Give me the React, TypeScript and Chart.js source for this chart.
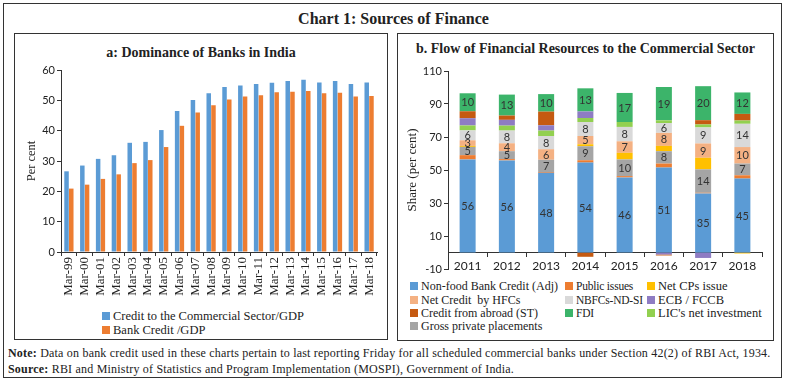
import React, { useEffect, useRef } from "react";
import { Chart, registerables } from "chart.js";

Chart.register(...registerables);

// ---------- Panel a data ----------
const leftCategories = [
  "Mar-99", "Mar-00", "Mar-01", "Mar-02", "Mar-03", "Mar-04", "Mar-05", "Mar-06", "Mar-07", "Mar-08",
  "Mar-09", "Mar-10", "Mar-11", "Mar-12", "Mar-13", "Mar-14", "Mar-15", "Mar-16", "Mar-17", "Mar-18",
];
const leftSeriesNames = ["Credit to the Commercial Sector/GDP", "Bank Credit /GDP"];
const creditCommercialGdp = [26.6, 28.5, 30.7, 31.9, 36.0, 36.3, 40.2, 46.5, 50.1, 52.3, 54.4, 54.9, 55.4, 55.8, 56.4, 56.8, 55.9, 56.4, 55.4, 55.9];
const bankCreditGdp = [20.9, 22.2, 24.1, 25.6, 29.3, 30.3, 34.6, 41.6, 46.0, 48.4, 50.3, 51.3, 51.7, 52.7, 52.8, 53.1, 52.3, 52.5, 51.3, 51.4];
const leftTicks = [0, 10, 20, 30, 40, 50, 60];

// ---------- Panel b data ----------
const years = ["2011", "2012", "2013", "2014", "2015", "2016", "2017", "2018"];
const nonFoodBankCredit = [56.4, 55.8, 48.3, 54.5, 45.5, 51.5, 35.8, 44.8];
const publicIssues = [2.6, 0.8, 0.5, 1.4, 0.8, 2.4, 0.4, 2.0];
const grossPrivatePlacements = [5.0, 4.8, 7.4, 8.5, 10.1, 7.5, 14.2, 7.1];
const netCPsIssue = [0.6, 0, 0, 1.2, 4.0, 3.2, 7.0, -0.6];
const netCreditHFCs = [3.4, 4.8, 6.4, 5.0, 7.0, 7.9, 8.7, 10.0];
const nbfcsNDSI = [6.0, 7.7, 8.0, 8.5, 8.7, 6.0, 9.7, 14.1];
const licNetInvestment = [3.0, 3.0, 3.3, 2.4, 3.0, 1.6, 1.8, 2.0];
const ecbFccb = [4.4, 3.5, 3.2, 4.0, 0, -1.2, -3.3, 0];
const creditFromAbroad = [4.2, 2.6, 8.3, -2.6, 0, -0.6, 2.6, 4.0];
const fdi = [10.9, 12.7, 10.6, 14.0, 17.6, 20.2, 20.6, 13.0];

// printed segment labels
const nonFoodLabels = [56, 56, 48, 54, 46, 51, 35, 45];
const grossPrivateLabels = [5, 5, 7, 9, 10, 8, 14, 7];
const hfcLabels = [3, 4, 6, 5, 7, 8, 9, 10];
const nbfcLabels = [6, 8, 8, 8, 8, 6, 9, 14];
const fdiLabels = [10, 13, 10, 13, 17, 19, 20, 12];

const rightTicks = [-10, 10, 30, 50, 70, 90, 110];

const C = {
  blue: "#5b9bd5",
  orange: "#ed7d31",
  yellow: "#ffc000",
  peach: "#f4b183",
  lightGrey: "#d9d9d9",
  purple: "#8e7cc3",
  darkOrange: "#c55a11",
  green: "#3cb46a",
  lightGreen: "#92d050",
  grey: "#a5a5a5",
};

// stacking order (bottom to top)
const stackSeries = [
  { name: "Non-food Bank Credit (Adj)", data: nonFoodBankCredit, color: C.blue, labels: nonFoodLabels },
  { name: "Public issues", data: publicIssues, color: C.orange },
  { name: "Gross private placements", data: grossPrivatePlacements, color: C.grey, labels: grossPrivateLabels },
  { name: "Net CPs issue", data: netCPsIssue, color: C.yellow },
  { name: "Net Credit  by HFCs", data: netCreditHFCs, color: C.peach, labels: hfcLabels },
  { name: "NBFCs-ND-SI", data: nbfcsNDSI, color: C.lightGrey, labels: nbfcLabels },
  { name: "LIC's net investment", data: licNetInvestment, color: C.lightGreen },
  { name: "ECB / FCCB", data: ecbFccb, color: C.purple },
  { name: "Credit from abroad (ST)", data: creditFromAbroad, color: C.darkOrange },
  { name: "FDI", data: fdi, color: C.green, labels: fdiLabels },
];

// legend order (rows of 3)
const legendOrder = [
  "Non-food Bank Credit (Adj)", "Public issues", "Net CPs issue",
  "Net Credit  by HFCs", "NBFCs-ND-SI", "ECB / FCCB",
  "Credit from abroad (ST)", "FDI", "LIC's net investment",
  "Gross private placements",
];

const SERIF = "'Liberation Serif', 'DejaVu Serif', serif";
const SANS = "Lato, 'Liberation Sans', sans-serif";
const INK = "#222";
const AXIS = "#333";

const segLabelPlugin = {
  id: "segLabels",
  afterDatasetsDraw(chart: any) {
    const ctx = chart.ctx;
    ctx.save();
    ctx.font = `11px ${SANS}`;
    ctx.fillStyle = "#333";
    ctx.textAlign = "center";
    ctx.textBaseline = "middle";
    chart.data.datasets.forEach((ds: any, i: number) => {
      if (!ds.segLabels) return;
      const meta = chart.getDatasetMeta(i);
      meta.data.forEach((el: any, j: number) => {
        const p = el.getProps(["x", "y", "base"], true);
        ctx.fillText(String(ds.segLabels[j]), p.x, (p.y + p.base) / 2 + 0.5);
      });
    });
    ctx.restore();
  },
};

export default function App() {
  const leftRef = useRef<HTMLCanvasElement>(null);
  const rightRef = useRef<HTMLCanvasElement>(null);

  useEffect(() => {
    const left = new Chart(leftRef.current as HTMLCanvasElement, {
      type: "bar",
      data: {
        labels: leftCategories,
        datasets: [
          { label: leftSeriesNames[0], data: creditCommercialGdp, backgroundColor: C.blue, categoryPercentage: 0.6, barPercentage: 0.95 },
          { label: leftSeriesNames[1], data: bankCreditGdp, backgroundColor: C.orange, categoryPercentage: 0.6, barPercentage: 0.95 },
        ],
      },
      options: {
        responsive: false,
        maintainAspectRatio: false,
        animation: false,
        layout: { padding: { left: 0, right: 9, top: 10, bottom: 0 } },
        plugins: { legend: { display: false }, tooltip: { enabled: false } },
        scales: {
          x: {
            grid: { display: true, drawOnChartArea: false, drawTicks: true, tickLength: 4, color: AXIS },
            border: { display: true, color: AXIS },
            ticks: { minRotation: 90, maxRotation: 90, autoSkip: false, font: { family: SERIF, size: 13 }, color: INK, padding: 1 },
            afterFit: (s: any) => { s.height = 48; },
          },
          y: {
            min: 0,
            max: 60,
            afterBuildTicks: (s: any) => { s.ticks = leftTicks.map((v) => ({ value: v })); },
            ticks: { font: { family: SANS, size: 11 }, color: INK, padding: 2 },
            grid: { display: true, drawOnChartArea: false, drawTicks: true, tickLength: 4, color: AXIS },
            border: { display: true, color: AXIS },
            title: { display: true, text: "Per cent", font: { family: SERIF, size: 12.5 }, color: INK, padding: { top: 10, bottom: 0 } },
            afterFit: (s: any) => { s.width = 47; },
          },
        },
      },
    });

    const right = new Chart(rightRef.current as HTMLCanvasElement, {
      type: "bar",
      data: {
        labels: years,
        datasets: stackSeries.map((s) => ({
          label: s.name,
          data: s.data,
          backgroundColor: s.color,
          categoryPercentage: 0.8,
          barPercentage: 0.51,
          segLabels: s.labels,
        })) as any,
      },
      options: {
        responsive: false,
        maintainAspectRatio: false,
        animation: false,
        layout: { padding: { left: 0, right: 9, top: 13, bottom: 9 } },
        plugins: { legend: { display: false }, tooltip: { enabled: false } },
        scales: {
          x: {
            stacked: true,
            position: { y: 0 } as any,
            grid: { display: true, drawOnChartArea: false, drawTicks: true, tickLength: 4, color: AXIS },
            border: { display: true, color: AXIS },
            ticks: { font: { family: SANS, size: 12 }, color: INK, padding: 2, maxRotation: 0 },
          },
          y: {
            stacked: true,
            min: -10,
            max: 110,
            afterBuildTicks: (s: any) => { s.ticks = rightTicks.map((v) => ({ value: v })); },
            ticks: { font: { family: SANS, size: 11 }, color: INK, padding: 2 },
            grid: { display: true, drawOnChartArea: false, drawTicks: true, tickLength: 4, color: AXIS },
            border: { display: true, color: AXIS },
            title: { display: true, text: "Share (per cent)", font: { family: SERIF, size: 13 }, color: INK, padding: { top: 6, bottom: 0 } },
            afterFit: (s: any) => { s.width = 49; },
          },
        },
      },
      plugins: [segLabelPlugin],
    });

    return () => {
      left.destroy();
      right.destroy();
    };
  }, []);

  const abs = (l: number, t: number, extra: React.CSSProperties = {}): React.CSSProperties => ({
    position: "absolute",
    left: l,
    top: t,
    ...extra,
  });

  const colorOf = (name: string) => stackSeries.find((s) => s.name === name)?.color || "#000";
  const colX = [410, 565, 647];
  const colFont = [12, 11.5, 12.5];
  const colSpacing = [0, -0.2, 0];
  const rowY = [286, 299.5, 313, 326];

  return (
    <div style={{ position: "fixed", left: 0, top: 0, width: 787, height: 384, background: "#fff", fontFamily: SERIF, color: INK, overflow: "hidden" }}>
      {/* outer frame */}
      <div style={abs(3, 3, { width: 779, height: 375, border: "1px solid #333", boxSizing: "border-box" })} />
      <div style={abs(0, 9, { width: 787, textAlign: "center", fontWeight: "bold", fontSize: 16, lineHeight: "20px" })}>
        Chart 1: Sources of Finance
      </div>

      {/* panel a */}
      <div style={abs(14, 33, { width: 374, height: 307, border: "1px solid #333", boxSizing: "border-box" })} />
      <div style={abs(14, 44, { width: 374, textAlign: "center", fontWeight: "bold", fontSize: 14, lineHeight: "18px" })}>
        a: Dominance of Banks in India
      </div>
      <canvas ref={leftRef} width={372} height={240} style={abs(14, 60, { width: 372, height: 240 })} />
      {leftSeriesNames.map((n, i) => (
        <div key={n} style={abs(102, 309 + i * 13.5, { fontSize: 12.5, lineHeight: "14px", whiteSpace: "pre", display: "flex", alignItems: "center" })}>
          <span style={{ display: "inline-block", width: 8, height: 8, background: i === 0 ? C.blue : C.orange, marginRight: 3 }} />
          {n}
        </div>
      ))}

      {/* panel b */}
      <div style={abs(397, 33, { width: 377, height: 308, border: "1px solid #333", boxSizing: "border-box" })} />
      <div style={abs(397, 40, { width: 377, textAlign: "center", fontWeight: "bold", fontSize: 14, lineHeight: "18px" })}>
        b. Flow of Financial Resources to the Commercial Sector
      </div>
      <canvas ref={rightRef} width={372} height={220} style={abs(399, 58, { width: 372, height: 220 })} />
      {legendOrder.map((n, i) => (
        <div key={n} style={abs(colX[i % 3], rowY[Math.floor(i / 3)] - 7, { fontSize: colFont[i % 3], letterSpacing: colSpacing[i % 3], lineHeight: "14px", whiteSpace: "pre", display: "flex", alignItems: "center" })}>
          <span style={{ display: "inline-block", width: 8, height: 8, background: colorOf(n), marginRight: 3 }} />
          {n}
        </div>
      ))}

      {/* notes */}
      <div style={abs(8, 346, { fontSize: 12, lineHeight: "14px", letterSpacing: 0.2, whiteSpace: "nowrap" })}>
        <b>Note:</b> Data on bank credit used in these charts pertain to last reporting Friday for all scheduled commercial banks under Section 42(2) of RBI Act, 1934.
      </div>
      <div style={abs(8, 362, { fontSize: 12, lineHeight: "14px", letterSpacing: 0.2, whiteSpace: "nowrap" })}>
        <b>Source:</b> RBI and Ministry of Statistics and Program Implementation (MOSPI), Government of India.
      </div>
    </div>
  );
}
